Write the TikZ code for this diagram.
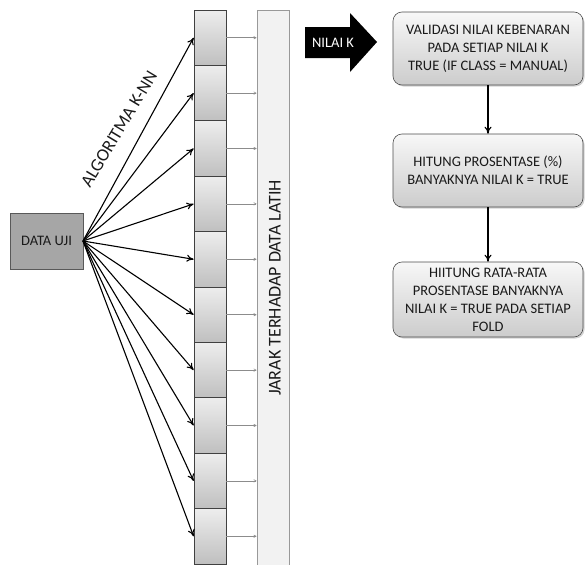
\documentclass[tikz,border=0pt]{standalone}
\usepackage{fontspec}
\setmainfont{Carlito}
\usetikzlibrary{arrows.meta,shadows}
\definecolor{txt}{HTML}{1A1A1A}
\tikzset{
  lbl/.style={font=\fontsize{14.5}{18}\selectfont,text=txt},
  biglbl/.style={font=\fontsize{18}{20}\selectfont,text=txt},
  colbox/.style={draw=black!75,line width=0.8pt,top color=black!7,bottom color=black!25,minimum width=32pt,minimum height=55.4pt,inner sep=0pt},
  flowbox/.style={lbl,draw=black!70,line width=0.6pt,rounded corners=9pt,top color=black!3,bottom color=black!20,minimum width=190pt,inner sep=1pt,align=center,drop shadow={shadow xshift=1.5pt,shadow yshift=-1.5pt,opacity=0.35}},
  fan/.style={-{To[length=7pt,width=7pt]},line width=1.1pt},
  thin/.style={-{To[length=3pt,width=3pt]},draw=black!45,line width=0.6pt},
  flow/.style={-{To[length=7pt,width=7pt]},line width=1.1pt},
}
\begin{document}
\begin{tikzpicture}[x=1pt,y=-1pt]
\useasboundingbox (0,0) rectangle (587,565);
% data uji
\node[lbl,draw=black!65,fill=black!35,line width=0.8pt,minimum width=73pt,minimum height=56pt,inner sep=0pt] (du) at (46.5,241) {DATA UJI};
\coordinate (src) at (83,241);
% bar
\node[draw=black!40,fill=black!5,line width=1pt,minimum width=32pt,minimum height=555pt,inner sep=0pt] (bar) at (273,287.5) {};
\node[biglbl,rotate=90] (barlbl) at (275,288) {JARAK TERHADAP DATA LATIH};
% column boxes
\foreach \i in {1,...,10}{
  \node[colbox] (b\i) at (210,{10+27.7+(\i-1)*55.4}) {};
  \draw[fan] (src) -- (b\i.west);
  \draw[thin] (b\i.east) -- (b\i.east -| bar.west);
}
\node[biglbl,rotate=59,inner sep=0pt] (alg) at (119,129) {ALGORITMA K-NN};
% nilai k arrow
\fill[black] (305,27) -- (350,27) -- (350,13) -- (377,42) -- (350,72) -- (350,58) -- (305,58) -- cycle;
\node[lbl,text=white] (nk) at (333,43) {NILAI K};
% flow boxes
\node[flowbox,minimum height=73pt] (f1) at (488,48.5) {VALIDASI NILAI KEBENARAN\\PADA SETIAP NILAI K\\TRUE (IF CLASS = MANUAL)};
\node[flowbox,minimum height=73pt] (f2) at (488,170.5) {HITUNG PROSENTASE (\%)\\BANYAKNYA NILAI K = TRUE};
\node[flowbox,minimum height=75pt] (f3) at (488,299.5) {HIITUNG RATA-RATA\\PROSENTASE BANYAKNYA\\NILAI K = TRUE PADA SETIAP\\FOLD};
\draw[flow] (f1) -- (f2);
\draw[flow] (f2) -- (f3);
\end{tikzpicture}
\end{document}
